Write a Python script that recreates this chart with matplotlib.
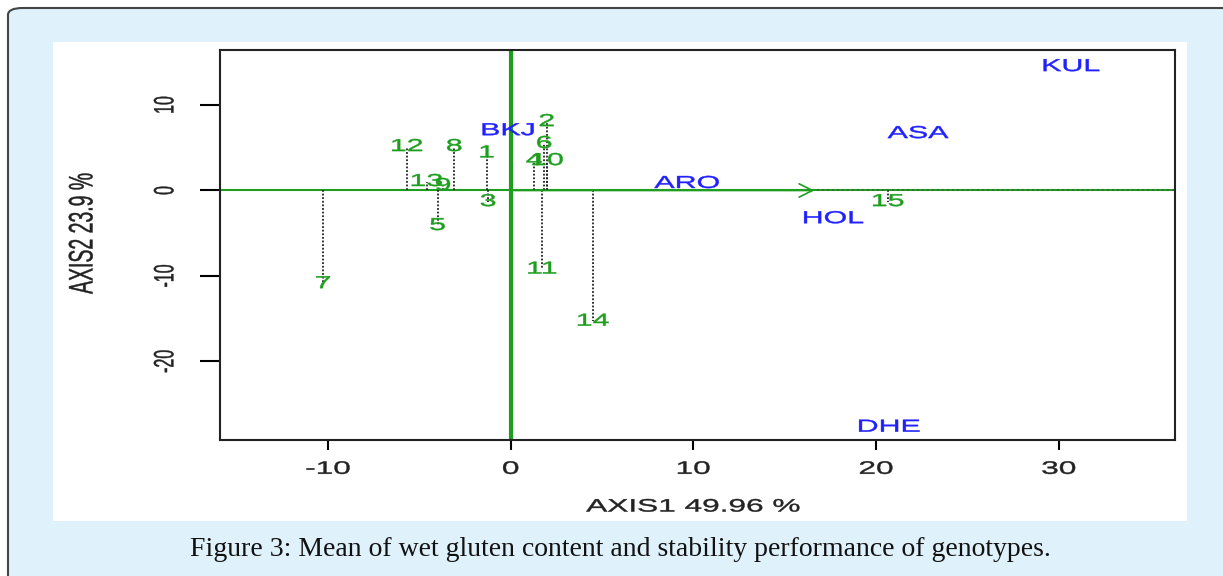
import matplotlib.pyplot as plt
from matplotlib.patches import FancyBboxPatch, Rectangle
from matplotlib.patheffects import AbstractPathEffect
from matplotlib.transforms import Affine2D

# genotype scores (green) and environment scores (blue)
gen_labels = ['1', '2', '3', '4', '5', '6', '7', '8', '9', '10', '11', '12', '13', '14', '15']
gen_x = [-1.31, 1.97, -1.24, 1.28, -4.0, 1.83, -10.27, -3.09, -3.7, 2.0, 1.72, -5.68, -4.6, 4.5, 20.65]
gen_y = [4.4, 8.06, -1.3, 3.5, -4.1, 5.5, -10.9, 5.14, 0.58, 3.5, -9.2, 5.14, 1.05, -15.3, -1.3]

env_labels = ['BKJ', 'ASA', 'KUL', 'ARO', 'HOL', 'DHE']
env_x = [-0.15, 22.3, 30.67, 9.65, 17.65, 20.7]
env_y = [7.0, 6.66, 14.5, 0.82, -3.3, -27.7]

mean_env_x = 16.77  # average environment arrow tip
axis1_pct = '49.96'
axis2_pct = '23.9'
caption = 'Figure 3: Mean of wet gluten content and stability performance of genotypes.'


class StretchX(AbstractPathEffect):
    """draw text widened horizontally (the source image was stretched)"""
    def __init__(self, sx, lw=0.3):
        super().__init__()
        self.sx = sx
        self.lw = lw

    def draw_path(self, renderer, gc, tpath, affine, rgbFace=None):
        ext = tpath.get_extents(affine)
        cx = (ext.x0 + ext.x1) / 2
        aff = affine + Affine2D().translate(-cx, 0).scale(self.sx, 1).translate(cx, 0)
        gc0 = renderer.new_gc()
        gc0.copy_properties(gc)
        gc0.set_linewidth(self.lw)
        if rgbFace is not None:
            gc0.set_foreground(rgbFace)
        renderer.draw_path(gc0, tpath, aff, rgbFace)
        gc0.restore()


SX = 1.75
wide = [StretchX(SX)]

plt.rcParams['font.family'] = ['Liberation Sans', 'DejaVu Sans']

W, H = 1223, 576
fig = plt.figure(figsize=(W / 100, H / 100), dpi=100)
fig.patch.set_facecolor('white')

# light blue card with rounded border, white panel on top
card = FancyBboxPatch((8 / W, -20 / H), (W + 20) / W, (H - 8 + 20) / H,
                      boxstyle='round,pad=0,rounding_size=0.012',
                      transform=fig.transFigure, facecolor='#dff1fb',
                      edgecolor='#444444', linewidth=1.5, zorder=-2)
fig.patches.append(card)
fig.patches.append(Rectangle((53 / W, 1 - 521 / H), (1187 - 53) / W, (521 - 42) / H,
                             transform=fig.transFigure, facecolor='white',
                             edgecolor='none', zorder=-1))

ax = fig.add_axes([220 / W, 1 - 440 / H, (1175 - 220) / W, (440 - 50) / H])
ax.set_zorder(2)
ax.set_xlim(-15.91, 36.36)
ax.set_ylim(-29.2, 16.44)
ax.set_facecolor('white')

green = '#1e9e1e'
blue = '#2020ff'
# axes through origin
ax.axvline(0, color=green, lw=3, zorder=2)
ax.axhline(0, color=green, lw=1.5, zorder=2)
ax.plot([mean_env_x, 36.36], [0, 0], ls=(0, (1, 2)), color='#406040', lw=1.2, zorder=3)
ax.annotate('', xy=(mean_env_x, 0), xytext=(0, 0),
            arrowprops=dict(arrowstyle='->', color=green, lw=1.2,
                            mutation_scale=24), zorder=3)

# projections of genotypes onto the abscissa
for x, y in zip(gen_x, gen_y):
    ax.plot([x, x], [0, y], ls=(0, (1, 1)), color='#222222', lw=1.3, zorder=2)

for lab, x, y in zip(gen_labels, gen_x, gen_y):
    ax.text(x, y, lab, color=green, fontsize=12.5, ha='center', va='center',
            zorder=4, path_effects=wide)

for lab, x, y in zip(env_labels, env_x, env_y):
    ax.text(x, y, lab, color=blue, fontsize=12.5, ha='center', va='center',
            zorder=4, path_effects=wide)

for s in ax.spines.values():
    s.set_linewidth(1.5)
    s.set_color('#222222')

ax.set_xticks([-10, 0, 10, 20, 30])
ax.set_xticklabels(['-10', '0', '10', '20', '30'], fontsize=13)
ax.set_yticks([10, 0, -10, -20])
ax.set_yticklabels(['10', '0', '-10', '-20'], fontsize=11.5, rotation=90, va='center')
for t in ax.get_xticklabels() + ax.get_yticklabels():
    t.set_path_effects(wide)
    t.set_color('#222222')
ax.tick_params(axis='x', length=7, width=1.5, pad=8)
ax.tick_params(axis='y', length=14.4, width=1.5, pad=20)

ax.set_xlabel('AXIS1 ' + axis1_pct + ' %', fontsize=13, va='center', path_effects=wide,
              color='#222222')
ax.xaxis.set_label_coords(0.4953, -0.172)
ax.set_ylabel('AXIS2 ' + axis2_pct + ' %', fontsize=14, va='center', path_effects=wide,
              color='#222222')
ax.yaxis.set_label_coords(-0.1435, 0.53)

fig.text(620 / W, 1 - 549 / H, caption, family='Liberation Serif', fontsize=20,
         ha='center', va='center', color='#111111')

fig.savefig('out.png', dpi=100)
